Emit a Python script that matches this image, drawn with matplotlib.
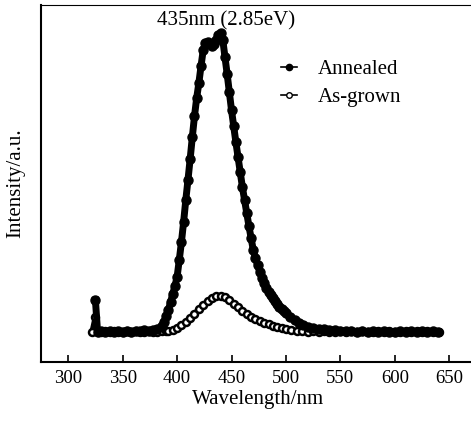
import numpy as np
import matplotlib
matplotlib.use("Agg")
import matplotlib.pyplot as plt
from matplotlib.lines import Line2D

plt.rcParams['font.family'] = ['Liberation Serif', 'DejaVu Serif']

# Annealed sample (filled circles)
wl_ann = [325, 327, 330, 334, 338, 342, 346, 350, 354, 358, 362, 366, 370, 374, 378,
          382, 386, 388, 390, 392, 394, 396, 398, 400, 402, 404, 406, 408, 410, 412,
          414, 416, 418, 420, 422, 424, 426, 428, 430, 432, 434, 436, 438, 440, 442,
          444, 446, 448, 450, 452, 454, 456, 458, 460, 462, 464, 466, 468, 470, 472,
          474, 476, 478, 480, 482, 484, 486, 488, 490, 492, 494, 496, 498, 500, 504,
          508, 512, 516, 520, 525, 530, 535, 540, 545, 550, 555, 560, 565, 570, 575,
          580, 585, 590, 595, 600, 605, 610, 615, 620, 625, 630, 635, 640]
int_ann = [62, 30, 31, 30, 31, 30, 31, 30, 31, 30, 31, 31, 32, 31, 32,
           33, 36, 40, 46, 52, 60, 68, 76, 85, 102, 120, 140, 162, 182, 203,
           225, 246, 264, 279, 296, 312, 319, 320, 318, 316, 318, 322, 327, 329, 322,
           305, 288, 270, 252, 236, 220, 205, 190, 175, 162, 149, 136, 124, 112, 104,
           97, 90, 84, 79, 74, 70, 67, 64, 61, 58, 55, 53, 51, 49, 45,
           42, 39, 37, 35, 34, 33, 33, 32, 32, 31, 31, 31, 30, 31, 30,
           31, 30, 31, 30, 30, 31, 30, 31, 30, 31, 30, 31, 30]

# As-grown sample (open circles)
wl_asg = [322, 325, 327, 330, 334, 338, 342, 346, 350, 354, 358, 362, 366, 370, 374,
          378, 382, 386, 390, 392, 396, 400, 404, 408, 412, 416, 420, 424, 428, 432,
          436, 440, 444, 448, 452, 456, 460, 464, 468, 472, 476, 480, 484, 488, 492,
          496, 500, 505, 510, 515, 520, 525, 530, 535, 540, 545, 550, 555, 560, 565,
          570, 575, 580, 585, 590, 595, 600, 605, 610, 615, 620, 625, 630, 635, 641]
int_asg = [30, 45, 30, 30, 31, 30, 31, 30, 30, 31, 30, 31, 30, 30, 31,
           30, 30, 31, 31, 31, 32, 34, 37, 40, 44, 48, 53, 57, 61, 64,
           66, 66, 65, 62, 58, 55, 51, 48, 45, 43, 41, 39, 38, 36, 35,
           34, 33, 32, 31, 31, 30, 31, 30, 31, 30, 30, 31, 30, 31, 30,
           31, 30, 30, 31, 30, 31, 30, 30, 31, 30, 31, 30, 31, 30, 30]

fig = plt.figure(figsize=(4.71, 4.23), dpi=100)
ax = fig.add_axes([0.087, 0.144, 0.92, 0.844])

ax.plot(wl_asg, int_asg, '-', color='black', marker='o', markersize=5,
        markerfacecolor='white', markeredgecolor='black', markeredgewidth=1.8,
        linewidth=4)
ax.plot(wl_ann, int_ann, '-', color='black', marker='o', markersize=6.5,
        markerfacecolor='black', markeredgecolor='black', linewidth=5)

ax.set_xlim(275, 673)
ax.set_ylim(0, 357)
ax.set_xticks([300, 350, 400, 450, 500, 550, 600, 650])
ax.set_yticks([])
ax.tick_params(axis='x', direction='in', length=5, width=1.2, labelsize=13.5, pad=6)
for s in ['left', 'bottom']:
    ax.spines[s].set_linewidth(1.5)
ax.spines['top'].set_linewidth(0.8)

ax.set_xlabel('Wavelength/nm', fontsize=15, labelpad=2)
ax.set_ylabel('Intensity/a.u.', fontsize=15, labelpad=11)

ax.text(445, 341, '435nm (2.85eV)', fontsize=15, ha='center', va='center')

handles = [
    Line2D([], [], color='black', linewidth=1.2, marker='o', markersize=4.5,
           markerfacecolor='black'),
    Line2D([], [], color='black', linewidth=1.2, marker='o', markersize=4,
           markerfacecolor='white'),
]
ax.legend(handles, ['Annealed', 'As-grown'], loc='upper left',
          bbox_to_anchor=(0.51, 0.90), frameon=False, fontsize=15,
          handlelength=0.8, handletextpad=1.0, labelspacing=0.4)

fig.savefig('out.png', dpi=100)
